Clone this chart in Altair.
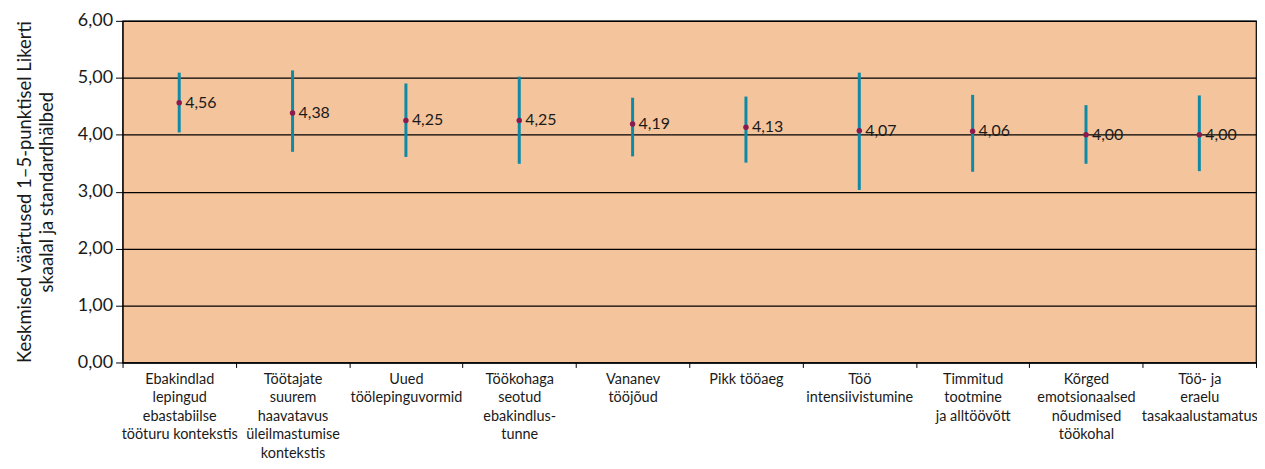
import altair as alt
import pandas as pd

categories = [
    "Ebakindlad|lepingud|ebastabiilse|tööturu kontekstis",
    "Töötajate|suurem|haavatavus|üleilmastumise|kontekstis",
    "Uued|töölepinguvormid",
    "Töökohaga|seotud|ebakindlus-|tunne",
    "Vananev|tööjõud",
    "Pikk tööaeg",
    "Töö|intensiivistumine",
    "Timmitud|tootmine|ja alltöövõtt",
    "Kõrged|emotsionaalsed|nõudmised|töökohal",
    "Töö- ja|eraelu|tasakaalustamatus",
]
means = [4.56, 4.38, 4.25, 4.25, 4.19, 4.13, 4.07, 4.06, 4.00, 4.00]
lows = [4.04, 3.70, 3.61, 3.49, 3.62, 3.51, 3.03, 3.35, 3.49, 3.36]
highs = [5.09, 5.13, 4.90, 5.02, 4.65, 4.67, 5.09, 4.70, 4.52, 4.69]

df = pd.DataFrame({"cat": categories, "mean": means, "low": lows, "high": highs})

FONT = "Lato"

xenc = alt.X(
    "cat:N",
    sort=categories,
    scale=alt.Scale(type="band", paddingInner=0, paddingOuter=0),
    axis=alt.Axis(
        title=None,
        labelExpr="split(datum.label, '|')",
        labelAngle=0,
        labelFontSize=14.5,
        labelFont=FONT,
        labelColor="#1a1a1a",
        labelPadding=5,
        labelLineHeight=18.5,
        labelBaseline="top",
        tickBand="extent",
        tickColor="black",
        tickSize=5,
        domainColor="black",
        grid=False,
    ),
)

yscale = alt.Scale(domain=[0, 6])

base = alt.Chart(df)

rules = base.mark_rule(color="#0E8AA6", strokeWidth=3).encode(
    x=xenc,
    y=alt.Y(
        "low:Q",
        scale=yscale,
        axis=alt.Axis(
            title=["Keskmised väärtused 1–5-punktisel Likerti", "skaalal ja standardhälbed"],
            titleFont=FONT,
            titleFontSize=18.5,
            titleFontWeight="normal",
            titleColor="#1a1a1a",
            titleLineHeight=22,
            titlePadding=21,
            values=[0, 1, 2, 3, 4, 5, 6],
            labelExpr="replace(format(datum.value, '.2f'), '.', ',')",
            labelFont=FONT,
            labelFontSize=18,
            labelColor="#1a1a1a",
            labelPadding=3,
            tickColor="black",
            tickSize=7,
            domainColor="black",
            gridColor="black",
            gridOpacity=1,
            gridWidth=1.2,
        ),
    ),
    y2="high:Q",
)

points = base.mark_point(filled=True, color="#8B1A4F", size=30, opacity=1).encode(
    x=alt.X("cat:N", sort=categories),
    y=alt.Y("mean:Q", scale=yscale),
)

labels = base.mark_text(
    align="left", baseline="middle", dx=6, fontSize=16, font=FONT, color="#1a1a1a"
).transform_calculate(
    lab="replace(format(datum.mean, '.2f'), '.', ',')"
).encode(
    x=alt.X("cat:N", sort=categories),
    y=alt.Y("mean:Q", scale=yscale),
    text="lab:N",
)

chart = (
    alt.layer(rules, points, labels)
    .properties(
        width=1138,
        height=343,
        autosize=alt.AutoSizeParams(type="none"),
        padding={"left": 115, "top": 12, "right": 1, "bottom": 98},
        background="white",
    )
    .configure_view(fill="#F4C49C", stroke="black", strokeWidth=1.2)
)

chart.save("out.html", embed_options={"renderer": "svg", "actions": False})
